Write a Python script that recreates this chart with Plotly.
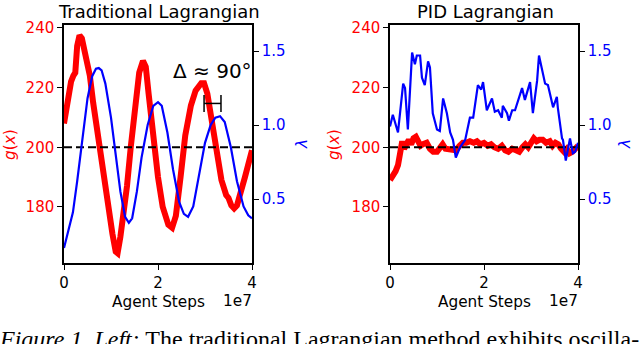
import plotly.graph_objects as go

# Traditional Lagrangian: constraint value g(x) and multiplier lambda (steps in 1e7)
trad_g_steps = [0.0, 0.08, 0.15, 0.20, 0.24, 0.28, 0.33, 0.38, 0.45, 0.55, 0.62, 0.70, 0.77,
                0.85, 0.94, 1.03, 1.10, 1.14, 1.20, 1.27, 1.34, 1.42, 1.51, 1.60, 1.68, 1.74,
                1.80, 1.90, 2.00, 2.10, 2.22, 2.30, 2.38, 2.48, 2.58, 2.70, 2.80, 2.92, 2.98,
                3.05, 3.15, 3.25, 3.35, 3.45, 3.50, 3.56, 3.62, 3.68, 3.75, 3.85, 4.0]
trad_g = [208, 216, 222, 224, 225, 234, 237.5, 236.5, 231, 224, 215, 206, 198,
          190, 180, 171, 165, 164.5, 170, 178, 187, 200, 214, 225, 229, 227,
          218, 203, 190, 180, 174, 173, 177, 190, 204, 214, 219, 221.5, 221.5,
          218, 208, 197, 189, 184, 183, 180.5, 179.5, 180.5, 184, 190, 199]

trad_lam_steps = [0.0, 0.10, 0.19, 0.28, 0.40, 0.50, 0.60, 0.68, 0.74, 0.80, 0.88, 1.00,
                  1.10, 1.20, 1.30, 1.38, 1.45, 1.55, 1.65, 1.78, 1.90, 2.00, 2.08, 2.20,
                  2.32, 2.45, 2.55, 2.64, 2.75, 2.88, 3.00, 3.12, 3.22, 3.32, 3.42, 3.55,
                  3.68, 3.82, 3.92, 4.0]
trad_lam = [0.17, 0.30, 0.41, 0.62, 0.92, 1.18, 1.33, 1.38, 1.385, 1.37, 1.28, 1.05,
            0.80, 0.55, 0.38, 0.34, 0.37, 0.55, 0.78, 1.00, 1.13, 1.155, 1.13, 0.95,
            0.70, 0.48, 0.40, 0.38, 0.45, 0.66, 0.88, 1.00, 1.05, 1.06, 1.02, 0.85,
            0.62, 0.45, 0.39, 0.37]

# PID Lagrangian
pid_g_steps = [0.0, 0.05, 0.12, 0.17, 0.22, 0.26, 0.30, 0.34, 0.40, 0.45, 0.50, 0.55, 0.60,
               0.65, 0.70, 0.78, 0.85, 0.92, 1.00, 1.06, 1.12, 1.18, 1.25, 1.32, 1.40, 1.48,
               1.55, 1.62, 1.70, 1.78, 1.85, 1.92, 2.00, 2.08, 2.15, 2.22, 2.30, 2.38, 2.45,
               2.52, 2.60, 2.68, 2.75, 2.82, 2.88, 2.94, 3.00, 3.06, 3.12, 3.18, 3.25, 3.32,
               3.40, 3.46, 3.52, 3.58, 3.64, 3.70, 3.76, 3.82, 3.88, 3.94, 4.0]
pid_g = [189, 190, 192, 194, 200, 202, 199.5, 201, 202.5, 201, 203, 203.5, 201.5,
         200.5, 201, 201.5, 199.5, 198.5, 198.5, 199.5, 201, 199.5, 199.5, 199.5, 199, 200.5,
         201.5, 201.5, 202, 201.5, 202, 201, 201.5, 200.5, 201, 200, 199.5, 200.5, 199,
         198.5, 199.5, 199, 198.5, 200, 201, 200, 201.5, 203, 202, 202.5, 202.5, 201.5,
         202, 200.5, 201.5, 201, 199.5, 198.5, 199.5, 198, 198.5, 199.5, 200.5]

pid_lam_steps = [0.0, 0.06, 0.17, 0.28, 0.32, 0.38, 0.47, 0.53, 0.57, 0.64, 0.68, 0.74, 0.81,
                 0.85, 0.91, 1.00, 1.06, 1.13, 1.21, 1.28, 1.34, 1.40, 1.49, 1.60, 1.70, 1.77,
                 1.87, 1.94, 1.98, 2.06, 2.17, 2.23, 2.30, 2.38, 2.40, 2.49, 2.53, 2.60, 2.66,
                 2.72, 2.81, 2.87, 2.98, 3.04, 3.13, 3.17, 3.23, 3.30, 3.36, 3.40, 3.47, 3.55,
                 3.57, 3.66, 3.68, 3.74, 3.79, 3.83, 3.89, 3.94, 4.0]
pid_lam = [0.99, 1.07, 0.95, 1.28, 1.25, 0.97, 1.49, 1.41, 1.47, 1.47, 1.32, 1.27, 1.43,
           1.39, 1.08, 0.97, 0.96, 1.18, 1.08, 0.95, 0.90, 0.78, 0.85, 0.90, 1.05, 1.05,
           1.27, 1.24, 1.29, 1.10, 1.18, 1.09, 1.10, 1.05, 1.13, 1.08, 1.03, 1.10, 1.10,
           1.16, 1.25, 1.17, 1.29, 1.08, 1.30, 1.47, 1.37, 1.28, 1.27, 1.22, 1.12, 1.19,
           1.12, 0.91, 0.90, 0.76, 0.85, 0.91, 0.81, 0.82, 0.88]

target_g = 200
x_ticks = [0, 2, 4]
g_ticks = [180, 200, 220, 240]
lam_ticks = [0.5, 1.0, 1.5]

# phase-lag bracket between red peak and blue peak
lag_x = [2.98, 3.34]
lag_y = [214.7, 214.7]
lag_half = [2.85, 2.85]

RED = '#ff0000'
BLUE = '#0000ff'
FONT = 'DejaVu Sans'

fig = go.Figure()

panels = [
    ('x', 'y', 'y2', trad_g_steps, trad_g, trad_lam_steps, trad_lam),
    ('x2', 'y3', 'y4', pid_g_steps, pid_g, pid_lam_steps, pid_lam),
]
for xa, ya, ya2, gs, gv, ls, lv in panels:
    fig.add_trace(go.Scatter(x=gs, y=gv, xaxis=xa, yaxis=ya, mode='lines',
                             line=dict(color=RED, width=6), showlegend=False))
    fig.add_trace(go.Scatter(x=[x_ticks[0], x_ticks[-1]], y=[target_g, target_g],
                             xaxis=xa, yaxis=ya, mode='lines',
                             line=dict(color='black', width=2, dash='8px,4px'),
                             showlegend=False))
    fig.add_trace(go.Scatter(x=ls, y=lv, xaxis=xa, yaxis=ya2, mode='lines',
                             line=dict(color=BLUE, width=2.2), showlegend=False))

fig.add_trace(go.Scatter(x=lag_x, y=lag_y, xaxis='x', yaxis='y', mode='lines',
                         line=dict(color='black', width=1.5),
                         error_y=dict(type='data', array=lag_half, width=0,
                                      color='black', thickness=1.5),
                         showlegend=False))

y_dom = [1 - 263 / 344, 1 - 25 / 344]
common = dict(showgrid=False, zeroline=False, showline=True, linecolor='black',
              linewidth=1.5, ticks='outside', ticklen=5, tickwidth=1.2,
              tickcolor='black', automargin=False)
xcommon = dict(common, range=[0, 4], tickvals=x_ticks, mirror=True,
               tickfont=dict(family=FONT, size=15, color='black'))
gcommon = dict(common, range=[161.2, 241], tickvals=g_ticks,
               tickfont=dict(family=FONT, size=15, color=RED))
lcommon = dict(common, range=[0.068, 1.676], tickvals=lam_ticks, tickformat='.1f',
               side='right', tickfont=dict(family=FONT, size=15, color=BLUE))

fig.update_layout(
    width=640, height=344,
    margin=dict(l=0, r=0, t=0, b=0, autoexpand=False),
    paper_bgcolor='white', plot_bgcolor='white',
    xaxis=dict(xcommon, domain=[64 / 640, 252 / 640], anchor='y'),
    yaxis=dict(gcommon, domain=y_dom, anchor='x'),
    yaxis2=dict(lcommon, overlaying='y', anchor='x'),
    xaxis2=dict(xcommon, domain=[390 / 640, 578 / 640], anchor='y3'),
    yaxis3=dict(gcommon, domain=y_dom, anchor='x2'),
    yaxis4=dict(lcommon, overlaying='y3', anchor='x2'),
)

def ann(text, x, y, size, color='black', angle=0, family=FONT,
        xanchor='center', yanchor='middle'):
    fig.add_annotation(text=text, x=x / 640, y=1 - y / 344, xref='paper', yref='paper',
                       showarrow=False, textangle=angle, xanchor=xanchor, yanchor=yanchor,
                       font=dict(family=family, size=size, color=color))

ann('Traditional Lagrangian', 159, 11, 18)
ann('PID Lagrangian', 485, 11, 18)
for cx, lx in [(158, 237), (484, 563)]:
    ann('Agent Steps', cx, 302, 15.3)
    ann('1e7', lx, 301, 15.3)
ann('<i>g</i>(<i>x</i>)', 10, 145, 15.3, RED, -90)
ann('<i>λ</i>', 302, 144, 15.3, BLUE, -90)
ann('<i>g</i>(<i>x</i>)', 334, 145, 15.3, RED, -90)
ann('<i>λ</i>', 625, 144, 15.3, BLUE, -90)

fig.add_annotation(text='Δ ≈ 90°', x=3.15, y=225.5, xref='x', yref='y',
                   showarrow=False, font=dict(family=FONT, size=20, color='black'))

ann('<i>Figure 1. Left:</i> The traditional Lagrangian method exhibits oscilla-',
    -3, 354, 24, family='Liberation Serif', xanchor='left', yanchor='bottom')

fig.write_html("out.html", config={'displayModeBar': False},
               post_script="document.body.style.margin='0';")
